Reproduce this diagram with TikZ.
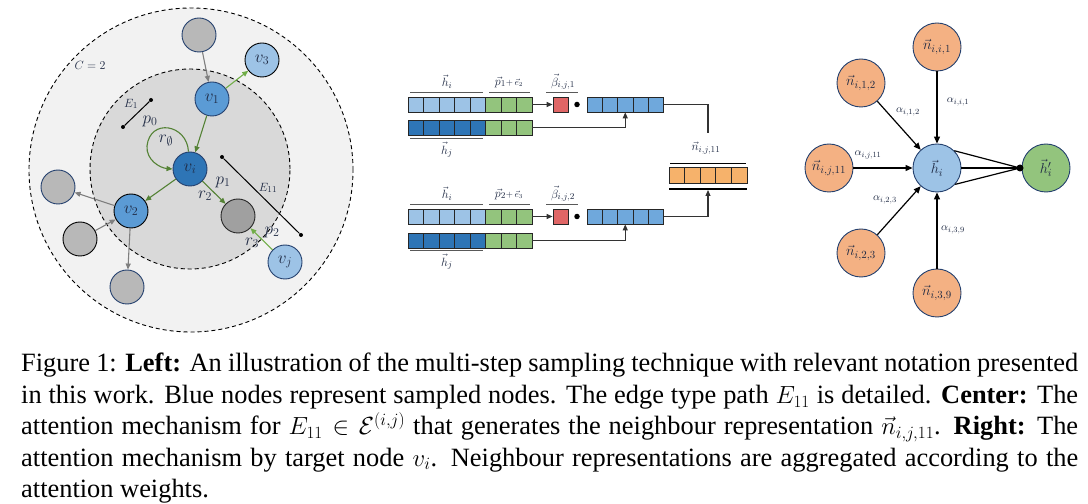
\documentclass[tikz,border=0pt]{standalone}
\usepackage{fontspec}
\setmainfont{Liberation Serif}
\usetikzlibrary{arrows.meta}
\definecolor{ringout}{HTML}{F2F2F2}
\definecolor{ringin}{HTML}{D9D9D9}
\definecolor{grayn}{HTML}{B8B8B8}
\definecolor{dgray}{HTML}{A0A0A0}
\definecolor{bmid}{HTML}{5B9BD5}
\definecolor{bdark}{HTML}{2E75B6}
\definecolor{blight}{HTML}{9DC3E6}
\definecolor{navy}{HTML}{24406E}
\definecolor{edgegray}{HTML}{7F7F7F}
\definecolor{gdark}{HTML}{548235}
\definecolor{glight}{HTML}{70AD47}
\definecolor{labc}{HTML}{1F2A44}
\definecolor{cgreen}{HTML}{93C47D}
\definecolor{cred}{HTML}{E06666}
\definecolor{cmid}{HTML}{6FA8DC}
\definecolor{corange}{HTML}{F6B26B}
\definecolor{rorange}{HTML}{F4B183}
\definecolor{rgreen}{HTML}{93C47D}
\begin{document}
\begin{tikzpicture}[x=1bp,y=-1bp,
  lnode/.style={circle, minimum size=34bp, inner sep=0pt, line width=0.9bp, text=labc, font=\fontsize{17}{17}\selectfont},
  gnode/.style={lnode, fill=grayn, draw=navy},
  lbl/.style={text=labc, inner sep=0pt, font=\fontsize{17}{17}\selectfont},
  sdot/.style={circle, fill=black, inner sep=0pt, minimum size=4bp},
  garrow/.style={draw=edgegray, line width=1.1bp, -{Triangle[length=6bp,width=5bp]}},
  dgarrow/.style={draw=gdark, line width=1.1bp, -{Triangle[length=6bp,width=5bp]}},
  lgarrow/.style={draw=glight, line width=1.1bp, -{Triangle[length=6bp,width=5bp]}},
  cell/.style={rectangle, draw=black!85, line width=0.8bp, minimum width=15.5bp, minimum height=15bp, inner sep=0pt},
  clab/.style={text=labc, inner sep=0pt, font=\fontsize{13}{13}\selectfont},
  cline/.style={draw=black!80, line width=1.1bp},
  carrow/.style={cline, -{Triangle[length=6bp,width=5bp]}},
  oline/.style={draw=black!65, line width=1bp},
  rnode/.style={circle, minimum size=48bp, inner sep=0pt, draw=navy, line width=0.9bp, text=labc, font=\fontsize{15}{15}\selectfont},
  rarrow/.style={draw=black, line width=1.2bp, -{Triangle[length=7bp,width=6bp]}},
  alab/.style={text=labc, inner sep=0pt, font=\fontsize{11}{11}\selectfont},
  capline/.style={anchor=base west, inner sep=0pt, font=\fontsize{26.5}{31}\selectfont}
]
\useasboundingbox (0,0) rectangle (1088,504);
\fill[white] (0,0) rectangle (1088,504);

% ---------------- Left panel ----------------
\filldraw[fill=ringout, draw=black, line width=0.9bp, dash pattern=on 4bp off 3bp] (191,170) circle[radius=162bp];
\filldraw[fill=ringin, draw=black, line width=0.9bp, dash pattern=on 4bp off 3bp] (190,169) circle[radius=100bp];

\node[lbl, font=\fontsize{12}{12}\selectfont] (c2) at (90,65) {$C=2$};

\node[sdot] (e1a) at (123,127) {};
\node[sdot] (e1b) at (151,100) {};
\draw[line width=1bp] (e1a) -- (e1b);
\node[lbl, font=\fontsize{13}{13}\selectfont] (le1) at (131,104) {$E_1$};
\node[lbl] (lp0) at (150,121) {$p_0$};

\node[sdot] (e11a) at (222,157) {};
\node[sdot] (e11b) at (301,235) {};
\draw[line width=1bp] (e11a) -- (e11b);
\node[lbl, font=\fontsize{13}{13}\selectfont] (le11) at (268,188) {$E_{11}$};

\node[gnode] (g1) at (199,35) {};
\node[lnode, fill=blight, draw=black] (v3) at (262,60) {$v_3$};
\node[lnode, fill=bmid, draw=navy] (v1) at (212,99) {$v_1$};
\node[lnode, fill=bdark, draw=navy] (vi) at (190,169) {$v_i$};
\node[lnode, fill=bmid, draw=black] (v2) at (131,211) {$v_2$};
\node[gnode] (g2) at (58,187) {};
\node[gnode, draw=black] (g3) at (80,239) {};
\node[gnode] (g4) at (127,287) {};
\node[lnode, fill=dgray, draw=black!85] (dg) at (238,216) {};
\node[lnode, fill=blight, draw=navy] (vj) at (285,262) {$v_j$};

\draw[garrow] (g1) -- (v1);
\draw[lgarrow] (v1) -- (v3);
\draw[dgarrow] (v1) -- (vi);
\draw[dgarrow] (vi) -- (v2);
\draw[dgarrow] (vi) -- (dg);
\draw[lgarrow] (vj) -- (dg);
\draw[garrow] (v2) -- (g2);
\draw[garrow] (g3) -- (v2);
\draw[garrow] (v2) -- (g4);
\draw[dgarrow] (vi.95) .. controls (187,124) and (150,118) .. (147,146) .. controls (146,160) and (160,168) .. (vi.west);

\node[lbl] (lr0) at (166,141) {$r_{\emptyset}$};
\node[lbl] (lp1) at (223,182) {$p_1$};
\node[lbl] (lr2) at (205,196) {$r_2$};
\node[lbl] (lp2) at (272,232) {$p_2$};
\node[lbl] (lr3) at (252,243) {$r_3$};

% ---------------- Center panel ----------------
\foreach \k in {0,...,4} {
  \node[cell, fill=blight] (a1\k) at ({415.75+15.5*\k},104.5) {};
  \node[cell, fill=bdark] (b1\k) at ({415.75+15.5*\k},127.5) {};
  \node[cell, fill=blight] (a2\k) at ({415.75+15.5*\k},216.5) {};
  \node[cell, fill=bdark] (b2\k) at ({415.75+15.5*\k},240.5) {};
  \node[cell, fill=cmid, minimum width=15.3bp] (m1\k) at ({594.65+15.3*\k},104.5) {};
  \node[cell, fill=cmid, minimum width=15.3bp] (m2\k) at ({594.65+15.3*\k},216.5) {};
  \node[cell, fill=corange, minimum width=15.6bp, minimum height=16bp] (o\k) at ({676.8+15.6*\k},175) {};
}
\foreach \k in {5,6,7} {
  \node[cell, fill=cgreen] (a1\k) at ({415.75+15.5*\k},104.5) {};
  \node[cell, fill=cgreen] (b1\k) at ({415.75+15.5*\k},127.5) {};
  \node[cell, fill=cgreen] (a2\k) at ({415.75+15.5*\k},216.5) {};
  \node[cell, fill=cgreen] (b2\k) at ({415.75+15.5*\k},240.5) {};
}
\node[cell, fill=cred, minimum width=15bp] (r1) at (560.5,104.5) {};
\node[cell, fill=cred, minimum width=15bp] (r2) at (560.5,216.5) {};
\node[sdot, minimum size=5.5bp] (d1) at (577,104.5) {};
\node[sdot, minimum size=5.5bp] (d2) at (577,216.5) {};

\draw[oline] (410,93) -- (483,93);
\draw[oline] (489,93) -- (530,93);
\draw[oline] (546,93) -- (578,93);
\draw[oline] (410,139) -- (483,139);
\draw[oline] (410,205) -- (483,205);
\draw[oline] (489,205) -- (530,205);
\draw[oline] (546,205) -- (578,205);
\draw[oline] (410,251) -- (483,251);
\draw[draw=black, line width=1bp] (670,164) -- (746,164);
\draw[draw=black, line width=2.2bp] (669,189) -- (747,189);

\node[clab] (lh1) at (447,82) {$\vec{h}_i$};
\node[clab] (lpe1) at (509,82) {$\vec{p}_1 \scriptstyle{+}\, \vec{e}_2$};
\node[clab] (lb1) at (563,82) {$\vec{\beta}_{i,j,1}$};
\node[clab] (lhj1) at (447,150) {$\vec{h}_j$};
\node[clab] (lh2) at (447,194) {$\vec{h}_i$};
\node[clab] (lpe2) at (509,194) {$\vec{p}_2 \scriptstyle{+}\, \vec{e}_3$};
\node[clab] (lb2) at (563,194) {$\vec{\beta}_{i,j,2}$};
\node[clab] (lhj2) at (447,262) {$\vec{h}_j$};
\node[clab] (ln) at (706,148) {$\vec{n}_{i,j,11}$};

\coordinate (n1top) at (708,133);
\coordinate (obar) at (708,190);
\draw[carrow] (a17.east) -- (r1.west);
\draw[carrow] (a27.east) -- (r2.west);
\draw[carrow] (b17.east) -| (m12.south);
\draw[carrow] (b27.east) -| (m22.south);
\draw[cline] (m14.east) -| (n1top);
\draw[carrow] (m24.east) -| (obar);

% ---------------- Right panel ----------------
\node[rnode, fill=blight] (h) at (937,168) {$\vec{h}_i$};
\node[rnode, fill=rgreen] (hp) at (1046,168) {$\vec{h}'_i$};
\node[rnode, fill=rorange] (n1) at (937,47) {$\vec{n}_{i,i,1}$};
\node[rnode, fill=rorange] (n2) at (861,83) {$\vec{n}_{i,1,2}$};
\node[rnode, fill=rorange] (n3) at (829,168) {$\vec{n}_{i,j,11}$};
\node[rnode, fill=rorange] (n4) at (861,253) {$\vec{n}_{i,2,3}$};
\node[rnode, fill=rorange] (n5) at (937,293) {$\vec{n}_{i,3,9}$};
\node[sdot, minimum size=7bp] (agg) at (1020,168) {};

\draw[rarrow] (n1) -- (h);
\draw[rarrow] (n2) -- (h);
\draw[rarrow] (n3) -- (h);
\draw[rarrow] (n4) -- (h);
\draw[rarrow] (n5) -- (h);
\draw[line width=1.2bp] (h.45) -- (agg.center);
\draw[line width=1.2bp] (h.east) -- (agg.center);
\draw[line width=1.2bp] (h.-42) -- (agg.center);

\node[alab] (a12) at (908,112) {$\alpha_{i,1,2}$};
\node[alab] (ai1) at (958,102) {$\alpha_{i,i,1}$};
\node[alab] (aj11) at (868,155) {$\alpha_{i,j,11}$};
\node[alab] (a23) at (885,200) {$\alpha_{i,2,3}$};
\node[alab] (a39) at (953,230) {$\alpha_{i,3,9}$};

% ---------------- Caption ----------------
\node[capline] (cap1) at (21,372) {\makebox[1057bp][s]{Figure 1: \textbf{Left:} An illustration of the multi-step sampling technique with relevant notation presented}};
\node[capline] (cap2) at (21,403.5) {\makebox[1057bp][s]{in this work. Blue nodes represent sampled nodes. The edge type path $E_{11}$ is detailed. \textbf{Center:} The}};
\node[capline] (cap3) at (21,434.5) {\makebox[1057bp][s]{attention mechanism for $E_{11}\in\mathcal{E}^{(i,j)}$ that generates the neighbour representation $\vec{n}_{i,j,11}$. \textbf{Right:} The}};
\node[capline] (cap4) at (21,466) {\makebox[1057bp][s]{attention mechanism by target node $v_i$. Neighbour representations are aggregated according to the}};
\node[capline] (cap5) at (21,497) {attention weights.};
\end{tikzpicture}
\end{document}
